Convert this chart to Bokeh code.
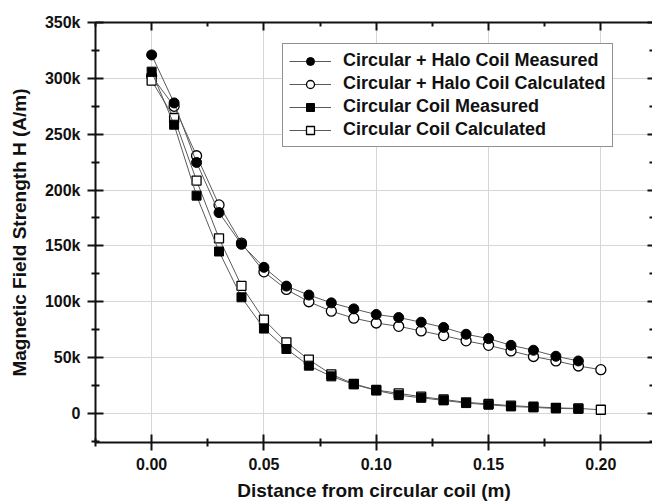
from bokeh.plotting import figure
from bokeh.models import (Range1d, FixedTicker, LinearAxis, Legend, LegendItem,
                          CustomJSTickFormatter, NumeralTickFormatter)
from bokeh.embed import file_html
from bokeh.resources import INLINE

# ---- data ----
x_meas = [0.00, 0.01, 0.02, 0.03, 0.04, 0.05, 0.06, 0.07, 0.08, 0.09,
          0.10, 0.11, 0.12, 0.13, 0.14, 0.15, 0.16, 0.17, 0.18, 0.19]
x_calc = x_meas + [0.20]

halo_measured = [321000, 278000, 224700, 179800, 151400, 130800, 114000, 106000, 99000, 93600,
                 88600, 85900, 81700, 77000, 70900, 67000, 61000, 56600, 51200, 47000]
halo_calculated = [302000, 275000, 230700, 186700, 152500, 126800, 111000, 100000, 91600, 85300,
                   81000, 78000, 73900, 69700, 65000, 61000, 56000, 51000, 47000, 42500, 39200]
circ_measured = [306000, 258500, 195000, 145000, 104000, 76000, 57700, 42800, 33200, 26000,
                 20600, 16400, 14000, 11700, 9300, 7800, 6300, 5400, 4500, 4200]
circ_calculated = [298000, 264500, 208500, 156800, 114300, 84000, 63700, 48200, 35000, 26500,
                   21000, 18000, 15000, 12500, 10000, 8500, 7000, 6000, 5000, 4500, 3300]

labels = ["Circular + Halo Coil Measured", "Circular + Halo Coil Calculated",
          "Circular Coil Measured", "Circular Coil Calculated"]

x_ticks = [0.00, 0.05, 0.10, 0.15, 0.20]
x_minor = [-0.025, 0.025, 0.075, 0.125, 0.175, 0.225]
y_ticks = [0, 50000, 100000, 150000, 200000, 250000, 300000, 350000]
y_minor = [-25000, 25000, 75000, 125000, 175000, 225000, 275000, 325000]

FONT = "Liberation Sans"

p = figure(width=652, height=504, output_backend="svg", toolbar_location=None,
           x_range=Range1d(-0.025, 0.223), y_range=Range1d(-26000, 350000),
           min_border_left=95, min_border_top=22, min_border_bottom=62, min_border_right=0)
p.outline_line_color = None
p.background_fill_color = "white"

# grid
p.xgrid.ticker = FixedTicker(ticks=x_ticks)
p.ygrid.ticker = FixedTicker(ticks=y_ticks)
for g in (p.xgrid, p.ygrid):
    g.grid_line_color = "#d6d6d6"
    g.grid_line_width = 1

blank = CustomJSTickFormatter(code="return '';")

def style_axis(ax, labels_on=True, tick_in=8, tick_out=8, minor_in=4, minor_out=4):
    ax.axis_line_width = 2
    ax.axis_line_color = "#111111"
    ax.major_tick_line_width = 2
    ax.minor_tick_line_width = 2
    ax.major_tick_line_color = "#111111"
    ax.minor_tick_line_color = "#111111"
    ax.major_tick_in = tick_in
    ax.major_tick_out = tick_out
    ax.minor_tick_in = minor_in
    ax.minor_tick_out = minor_out
    ax.major_label_text_font = FONT
    ax.major_label_text_font_style = "bold"
    ax.major_label_text_font_size = "16px"
    ax.major_label_text_color = "#111111"
    ax.axis_label_text_font = FONT
    ax.axis_label_text_font_style = "bold"
    ax.axis_label_text_font_size = "19px"
    ax.axis_label_text_color = "#111111"
    if not labels_on:
        ax.formatter = blank
        ax.major_label_standoff = 0

xt = FixedTicker(ticks=x_ticks, minor_ticks=x_minor)
yt = FixedTicker(ticks=y_ticks, minor_ticks=y_minor)
yfmt = CustomJSTickFormatter(code="return tick == 0 ? '0' : (tick/1000) + 'k';")

p.xaxis.ticker = xt
p.xaxis.formatter = NumeralTickFormatter(format="0.00")
p.xaxis.axis_label = "Distance from circular coil (m)"
style_axis(p.xaxis[0])
p.xaxis.major_label_standoff = 7
p.xaxis.axis_label_standoff = 7

p.yaxis.ticker = yt
p.yaxis.formatter = yfmt
p.yaxis.axis_label = "Magnetic Field Strength H (A/m)"
style_axis(p.yaxis[0])
p.yaxis.major_label_standoff = 7
p.yaxis.axis_label_standoff = 12

top = LinearAxis(ticker=FixedTicker(ticks=x_ticks, minor_ticks=x_minor))
style_axis(top, labels_on=False, tick_in=8, tick_out=0, minor_in=4, minor_out=0)
p.add_layout(top, "above")
right = LinearAxis(ticker=FixedTicker(ticks=y_ticks, minor_ticks=y_minor))
style_axis(right, labels_on=False, tick_in=5, tick_out=0, minor_in=3, minor_out=0)
right.axis_line_color = None
p.add_layout(right, "right")

LC = "#5a5a5a"
MS = 10

# calculated first (drawn underneath), measured on top
l_hc = p.line(x_calc, halo_calculated, line_color=LC, line_width=1)
m_hc = p.scatter(x_calc, halo_calculated, marker="circle", size=MS,
                 fill_color="white", line_color="black", line_width=1.3)
l_cc = p.line(x_calc, circ_calculated, line_color=LC, line_width=1)
m_cc = p.scatter(x_calc, circ_calculated, marker="square", size=MS - 1,
                 fill_color="white", line_color="black", line_width=1.3)
l_hm = p.line(x_meas, halo_measured, line_color=LC, line_width=1)
m_hm = p.scatter(x_meas, halo_measured, marker="circle", size=MS,
                 fill_color="black", line_color="black", line_width=1)
l_cm = p.line(x_meas, circ_measured, line_color=LC, line_width=1)
m_cm = p.scatter(x_meas, circ_measured, marker="square", size=MS - 1,
                 fill_color="black", line_color="black", line_width=1)

items = [
    LegendItem(label=labels[0], renderers=[l_hm, m_hm]),
    LegendItem(label=labels[1], renderers=[l_hc, m_hc]),
    LegendItem(label=labels[2], renderers=[l_cm, m_cm]),
    LegendItem(label=labels[3], renderers=[l_cc, m_cc]),
]
legend = Legend(items=items, location=(187, 295))
legend.label_text_font = FONT
legend.label_text_font_style = "bold"
legend.label_text_font_size = "18px"
legend.label_text_color = "#111111"
legend.glyph_width = 42
legend.glyph_height = 20
legend.label_height = 20
legend.label_standoff = 12
legend.spacing = 2
legend.padding = 6
legend.margin = 0
legend.border_line_color = "#222222"
legend.border_line_width = 1.5
legend.background_fill_color = "white"
legend.background_fill_alpha = 1
p.add_layout(legend, "center")

open("out.html", "w").write(file_html(p, INLINE))
